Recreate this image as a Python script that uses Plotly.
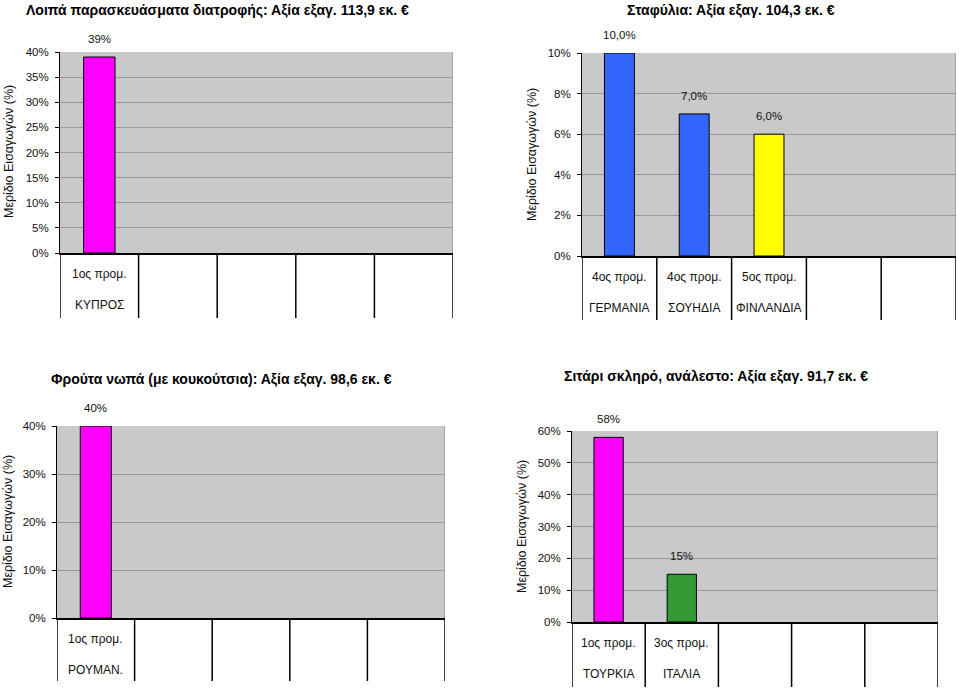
import plotly.graph_objects as go

W, H = 959, 688

# ---------------- data ----------------
titles = [
    "Λοιπά παρασκευάσματα διατροφής: Αξία εξαγ. 113,9 εκ. €",
    "Σταφύλια: Αξία εξαγ. 104,3 εκ. €",
    "Φρούτα νωπά (με κουκούτσια): Αξία εξαγ. 98,6 εκ. €",
    "Σιτάρι σκληρό, ανάλεστο: Αξία εξαγ. 91,7 εκ. €",
]
ranks1 = ["1ος προμ."]
countries1 = ["ΚΥΠΡΟΣ"]
values1 = [39]

ranks2 = ["4ος προμ.", "4ος προμ.", "5ος προμ."]
countries2 = ["ΓΕΡΜΑΝΙΑ", "ΣΟΥΗΔΙΑ", "ΦΙΝΛΑΝΔΙΑ"]
values2 = [10.0, 7.0, 6.0]

ranks3 = ["1ος προμ."]
countries3 = ["ΡΟΥΜΑΝ."]
values3 = [40]

ranks4 = ["1ος προμ.", "3ος προμ."]
countries4 = ["ΤΟΥΡΚΙΑ", "ΙΤΑΛΙΑ"]
values4 = [58, 15]

y_max = [40, 10, 40, 60]
y_step = [5, 2, 10, 10]
n_slots = 5
y_title = "Μερίδιο Εισαγωγών (%)"

# ---------------- styles / layout ----------------
colors = [
    ["#FF00FF"],
    ["#3366FF", "#3366FF", "#FFFF00"],
    ["#FF00FF"],
    ["#FF00FF", "#339933"],
]
label_fmt = ["{:.0f}%", "{:.1f}%", "{:.0f}%", "{:.0f}%"]
# plot areas in pixels: x0, x1, ytop, ybottom, table bottom
boxes = [
    (60, 453, 52, 253, 318),
    (582, 956, 53, 256, 320),
    (57, 445, 426, 618, 681),
    (572, 938, 431, 622, 687),
]
title_pos = [(24, 10, "left"), (731, 10, "center"), (49, 379, "left"), (716, 376, "center")]
ytitle_pos = [(9, 152), (532, 155), (8, 522), (522, 527)]

panels = [
    (ranks1, countries1, values1),
    (ranks2, countries2, values2),
    (ranks3, countries3, values3),
    (ranks4, countries4, values4),
]

FONT = "Liberation Sans, Arial, sans-serif"
BG = "#C9C9C9"
GRID = "#999999"

fig = go.Figure()
annotations = []
shapes = []
layout_axes = {}

for i, (ranks, countries, values) in enumerate(panels):
    n = i + 1
    xa = "x" if n == 1 else f"x{n}"
    ya = "y" if n == 1 else f"y{n}"
    x0, x1, yt, yb, tb = boxes[i]
    xs = list(range(len(values)))
    fig.add_trace(go.Bar(
        x=xs, y=values, width=0.4,
        marker=dict(color=colors[i], line=dict(color="black", width=1)),
        xaxis=xa, yaxis=ya, hoverinfo="skip",
    ))
    layout_axes[f"xaxis{'' if n == 1 else n}"] = dict(
        domain=[x0 / W, x1 / W], anchor=ya, range=[-0.5, n_slots - 0.5],
        showticklabels=False, ticks="", showgrid=False, zeroline=False,
        showline=True, linecolor="black", linewidth=2, fixedrange=True,
        automargin=False,
    )
    layout_axes[f"yaxis{'' if n == 1 else n}"] = dict(
        domain=[1 - yb / H, 1 - yt / H], anchor=xa, range=[0, y_max[i]],
        dtick=y_step[i], tick0=0, ticksuffix="%", ticks="outside", ticklen=4,
        tickcolor="black", showline=True, linecolor="black", linewidth=1,
        showgrid=True, gridcolor=GRID, gridwidth=1, zeroline=False,
        tickfont=dict(family=FONT, size=11.5, color="#111"), ticklabelstandoff=4,
        fixedrange=True, automargin=False,
    )
    # table lines under the plot
    depth = (tb - yb) / (yb - yt)
    for k in range(n_slots + 1):
        shapes.append(dict(type="line", xref=xa, yref=f"{ya} domain",
                           x0=k - 0.5, x1=k - 0.5, y0=0, y1=-depth,
                           line=dict(color="black", width=1.5)))
    # right border of the plot area
    shapes.append(dict(type="line", xref=xa, yref=f"{ya} domain",
                       x0=n_slots - 0.5, x1=n_slots - 0.5, y0=0, y1=1,
                       line=dict(color=GRID, width=1.5)))
    # data labels and category labels
    for x, v, r, c in zip(xs, values, ranks, countries):
        annotations.append(dict(xref=xa, yref=ya, x=x, y=v, yshift=18,
                                text=label_fmt[i].format(v).replace(".", ","),
                                showarrow=False, yanchor="middle",
                                font=dict(family=FONT, size=11.5, color="#111")))
        annotations.append(dict(xref=xa, yref=ya, x=x, y=0, yshift=-21,
                                text=r, showarrow=False, yanchor="middle",
                                font=dict(family=FONT, size=12, color="#111")))
        annotations.append(dict(xref=xa, yref=ya, x=x, y=0, yshift=-52,
                                text=c, showarrow=False, yanchor="middle",
                                font=dict(family=FONT, size=12, color="#111")))
    tx, ty, anc = title_pos[i]
    annotations.append(dict(xref="paper", yref="paper", x=tx / W, y=1 - ty / H,
                            text=f"<b>{titles[i]}</b>", showarrow=False,
                            xanchor=anc, yanchor="middle",
                            font=dict(family=FONT, size=14, color="black")))
    ax_, ay_ = ytitle_pos[i]
    annotations.append(dict(xref="paper", yref="paper", x=ax_ / W, y=1 - ay_ / H,
                            text=y_title, textangle=-90, showarrow=False,
                            xanchor="center", yanchor="middle",
                            font=dict(family=FONT, size=12.5, color="#111")))

fig.update_layout(
    width=W, height=H, margin=dict(l=0, r=0, t=0, b=0, pad=0),
    paper_bgcolor="white", plot_bgcolor=BG, showlegend=False,
    annotations=annotations, shapes=shapes, **layout_axes,
)
fig.write_html(
    "out.html",
    config={"displayModeBar": False},
    post_script="document.body.style.margin='0';document.body.style.padding='0';document.body.style.overflow='hidden';",
)
